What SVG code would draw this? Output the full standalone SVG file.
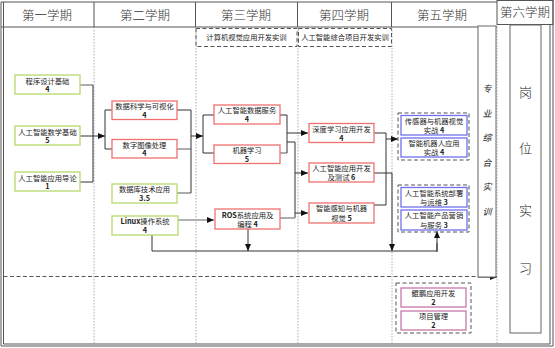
<svg xmlns="http://www.w3.org/2000/svg" width="555" height="348" viewBox="0 0 555 348">
<style>
text{font-family:"Noto Sans CJK SC","Liberation Serif",sans-serif;fill:#222}
.hd{font-size:12.5px;text-anchor:middle;font-weight:300;fill:#333}
.t{font-size:7.3px;text-anchor:middle}
.n{font-weight:bold}
.frame{fill:none;stroke:#555;stroke-width:1}
.dot{stroke:#999;stroke-width:0.8;stroke-dasharray:1.5 1.5}
.dash{fill:none;stroke:#555;stroke-width:1;stroke-dasharray:4 2.5}
.g{fill:#fff;stroke:#b5d96b;stroke-width:1.3}
.r{fill:#fff;stroke:#f07070;stroke-width:1.3}
.b{fill:#fff;stroke:#7070f0;stroke-width:1.3}
.p{fill:#fff;stroke:#c678a8;stroke-width:1.3}
.c{fill:none;stroke:#333;stroke-width:1}
.cg{fill:none;stroke:#999;stroke-width:1.6}
.ar{marker-end:url(#a)}
</style>
<defs>
<marker id="a" markerWidth="7" markerHeight="6" refX="7" refY="3" orient="auto" markerUnits="userSpaceOnUse"><path d="M0,0 L7,3 L0,6 Z" fill="#111"/></marker>
</defs>
<rect width="555" height="348" fill="#fff"/>
<g id="frame">
<line x1="1" y1="2" x2="1" y2="346" class="frame"/>
<line x1="3.5" y1="2" x2="3.5" y2="344" class="frame"/>
<line x1="1" y1="2" x2="497" y2="2" class="frame"/>
<line x1="1" y1="27" x2="497" y2="27" class="frame" stroke-width="1.3"/>
<line x1="1" y1="346" x2="553" y2="346" class="frame"/>
<line x1="3.5" y1="344" x2="550" y2="344" class="frame"/>
<line x1="94" y1="2" x2="94" y2="27" class="frame" stroke-width="1.5"/>
<line x1="195.5" y1="2" x2="195.5" y2="27" class="frame" stroke-width="1.5"/>
<line x1="297.5" y1="2" x2="297.5" y2="27" class="frame" stroke-width="1.5"/>
<line x1="391.5" y1="2" x2="391.5" y2="27" class="frame"/>
<rect x="497" y="0.5" width="56" height="24" class="frame" stroke-width="1.3"/>
<line x1="550" y1="24" x2="550" y2="344" class="frame"/>
<line x1="553" y1="0" x2="553" y2="346" class="frame"/>
<line x1="94" y1="27" x2="94" y2="344" class="dot"/>
<line x1="196" y1="27" x2="196" y2="344" class="dot"/>
<line x1="298" y1="27" x2="298" y2="344" class="dot"/>
<line x1="392" y1="27" x2="392" y2="344" class="dot"/>
<line x1="497" y1="27" x2="497" y2="344" class="dot"/>
<text class="hd" x="47" y="19.5">第一学期</text>
<text class="hd" x="145" y="19.5">第二学期</text>
<text class="hd" x="246" y="19.5">第三学期</text>
<text class="hd" x="344" y="19.5">第四学期</text>
<text class="hd" x="442" y="19.5">第五学期</text>
<text class="hd" x="525" y="17">第六学期</text>
<rect x="196" y="28.5" width="101" height="18" class="dash"/>
<text class="t" x="246.5" y="40">计算机视觉应用开发实训</text>
<rect x="298.5" y="28.5" width="93" height="18" class="dash"/>
<text class="t" x="345" y="40">人工智能综合项目开发实训</text>
<line x1="3.5" y1="276.5" x2="478" y2="276.5" class="dash" stroke-width="1.3" stroke-dasharray="7 4"/>
</g>
<g id="connectors">
<path class="cg" d="M80,85 H93"/>
<path class="c" d="M80,136 H93"/>
<path class="c" d="M80,182 H93"/>
<path class="c" d="M93,85 V182"/>
<path class="c ar" d="M93,136 H105"/>
<path class="c" d="M112,110 H105 V149 H112"/>
<path class="c" d="M177,110 H191"/>
<path class="cg" d="M177,149 H191"/>
<path class="cg" d="M177,193 H191"/>
<path class="c" d="M191,110 V193"/>
<path class="c ar" d="M191,136 H203"/>
<path class="c" d="M214,115 H203 V153 H214"/>
<path class="c" d="M280,115 H287"/>
<path class="cg" d="M280,153 H287"/>
<path class="c" d="M287,115 V153"/>
<path class="c ar" d="M287,133 H308"/>
<path class="c" d="M287,142 H295 V218"/>
<path class="cg" d="M280,218 H295"/>
<path class="c ar" d="M295,173 H308"/>
<path class="c ar" d="M295,213 H308"/>
<path class="cg ar" d="M178,220 H214"/>
<path class="c" d="M152,235 V251 H437 V243"/>
<path class="c ar" d="M437,252 V231"/>
<path class="c ar" d="M248,229 V251"/>
<path class="c ar" d="M374,173 H392 V251"/>
<path class="c" d="M374,133 H386 V205 H374"/>
<path class="c ar" d="M386,139 H398"/>
<path class="c ar" d="M478,277 H497"/>
</g>
<g id="n1"><rect x="15" y="75" width="65" height="19" class="g"/><text class="t" x="47.5" y="83.5">程序设计基础</text><text class="t n" x="47.5" y="92">4</text></g>
<g id="n2"><rect x="15" y="126" width="65" height="19" class="g"/><text class="t" x="47.5" y="134.5">人工智能数学基础</text><text class="t n" x="47.5" y="143">5</text></g>
<g id="n3"><rect x="15" y="172" width="65" height="19" class="g"/><text class="t" x="47.5" y="180.5">人工智能应用导论</text><text class="t n" x="47.5" y="189">1</text></g>
<g id="n4"><rect x="112" y="101" width="65" height="18.5" class="r"/><text class="t" x="144.5" y="109">数据科学与可视化</text><text class="t n" x="144.5" y="117.5">4</text></g>
<g id="n5"><rect x="112" y="139.5" width="65" height="18.5" class="r"/><text class="t" x="144.5" y="147.5">数字图像处理</text><text class="t n" x="144.5" y="156">4</text></g>
<g id="n6"><rect x="112" y="184" width="65" height="19" class="g"/><text class="t" x="144.5" y="192">数据库技术应用</text><text class="t n" x="144.5" y="201">3.5</text></g>
<g id="n7"><rect x="112" y="216" width="66" height="19" class="g"/><text class="t" x="145" y="224"><tspan class="n">Linux</tspan>操作系统</text><text class="t n" x="145" y="233">4</text></g>
<g id="n8"><rect x="214" y="105" width="66" height="19" class="r"/><text class="t" x="247" y="113">人工智能数据服务</text><text class="t n" x="247" y="122">4</text></g>
<g id="n9"><rect x="214" y="145" width="66" height="18.5" class="r"/><text class="t" x="247" y="153">机器学习</text><text class="t n" x="247" y="161.5">5</text></g>
<g id="n10"><rect x="215" y="209" width="65" height="20" class="r"/><text class="t" x="247.5" y="217.5"><tspan class="n">ROS</tspan>系统应用及</text><text class="t" x="247.5" y="226.5">编程 <tspan class="n">4</tspan></text></g>
<g id="n11"><rect x="309" y="123.5" width="65" height="19" class="r"/><text class="t" x="341.5" y="131.5">深度学习应用开发</text><text class="t n" x="341.5" y="140.5">4</text></g>
<g id="n12"><rect x="309" y="163" width="65" height="19" class="r"/><text class="t" x="341.5" y="171">人工智能应用开发</text><text class="t" x="341.5" y="180">及测试 <tspan class="n">6</tspan></text></g>
<g id="n13"><rect x="309" y="203" width="65" height="20" class="r"/><text class="t" x="341.5" y="211">智能感知与机器</text><text class="t" x="341.5" y="220.5">视觉 <tspan class="n">5</tspan></text></g>
<g id="grp1"><rect x="398" y="113" width="71" height="47" class="dash"/></g>
<g id="n14"><rect x="401" y="115.5" width="66" height="19.5" class="b"/><text class="t" x="434" y="123.5">传感器与机器视觉</text><text class="t" x="434" y="132.5">实战 <tspan class="n">4</tspan></text></g>
<g id="n15"><rect x="401" y="138" width="66" height="19" class="b"/><text class="t" x="434" y="146">智能机器人应用</text><text class="t" x="434" y="155">实战 <tspan class="n">4</tspan></text></g>
<g id="grp2"><rect x="398" y="185" width="71" height="47" class="dash"/></g>
<g id="n16"><rect x="401" y="187.5" width="66" height="19.5" class="b"/><text class="t" x="434" y="195.5">人工智能系统部署</text><text class="t" x="434" y="204.5">与运维 <tspan class="n">3</tspan></text></g>
<g id="n17"><rect x="401" y="210" width="66" height="20" class="b"/><text class="t" x="434" y="218">人工智能产品营销</text><text class="t" x="434" y="227.5">与服务 <tspan class="n">3</tspan></text></g>
<g id="grp3"><rect x="396" y="283" width="75" height="50" class="dash"/></g>
<g id="n18"><rect x="401" y="288" width="65" height="19" class="p"/><text class="t" x="433.5" y="296">鲲鹏应用开发</text><text class="t n" x="433.5" y="305">2</text></g>
<g id="n19"><rect x="401" y="311" width="65" height="19" class="p"/><text class="t" x="433.5" y="319">项目管理</text><text class="t n" x="433.5" y="328">2</text></g>
<g id="n20"><rect x="478" y="26" width="18" height="251" fill="#fff" stroke="#666" stroke-width="1"/>
<g font-size="9" font-style="italic" text-anchor="middle"><text x="487" y="92">专</text><text x="487" y="117">业</text><text x="487" y="141">综</text><text x="487" y="166">合</text><text x="487" y="190">实</text><text x="487" y="215">训</text></g></g>
<g id="n21"><rect x="510" y="25" width="31" height="308" fill="#fff" stroke="#666" stroke-width="1"/>
<g font-size="13" text-anchor="middle" font-weight="300"><text x="525.5" y="97">岗</text><text x="525.5" y="153">位</text><text x="525.5" y="215">实</text><text x="525.5" y="273">习</text></g></g>
</svg>
